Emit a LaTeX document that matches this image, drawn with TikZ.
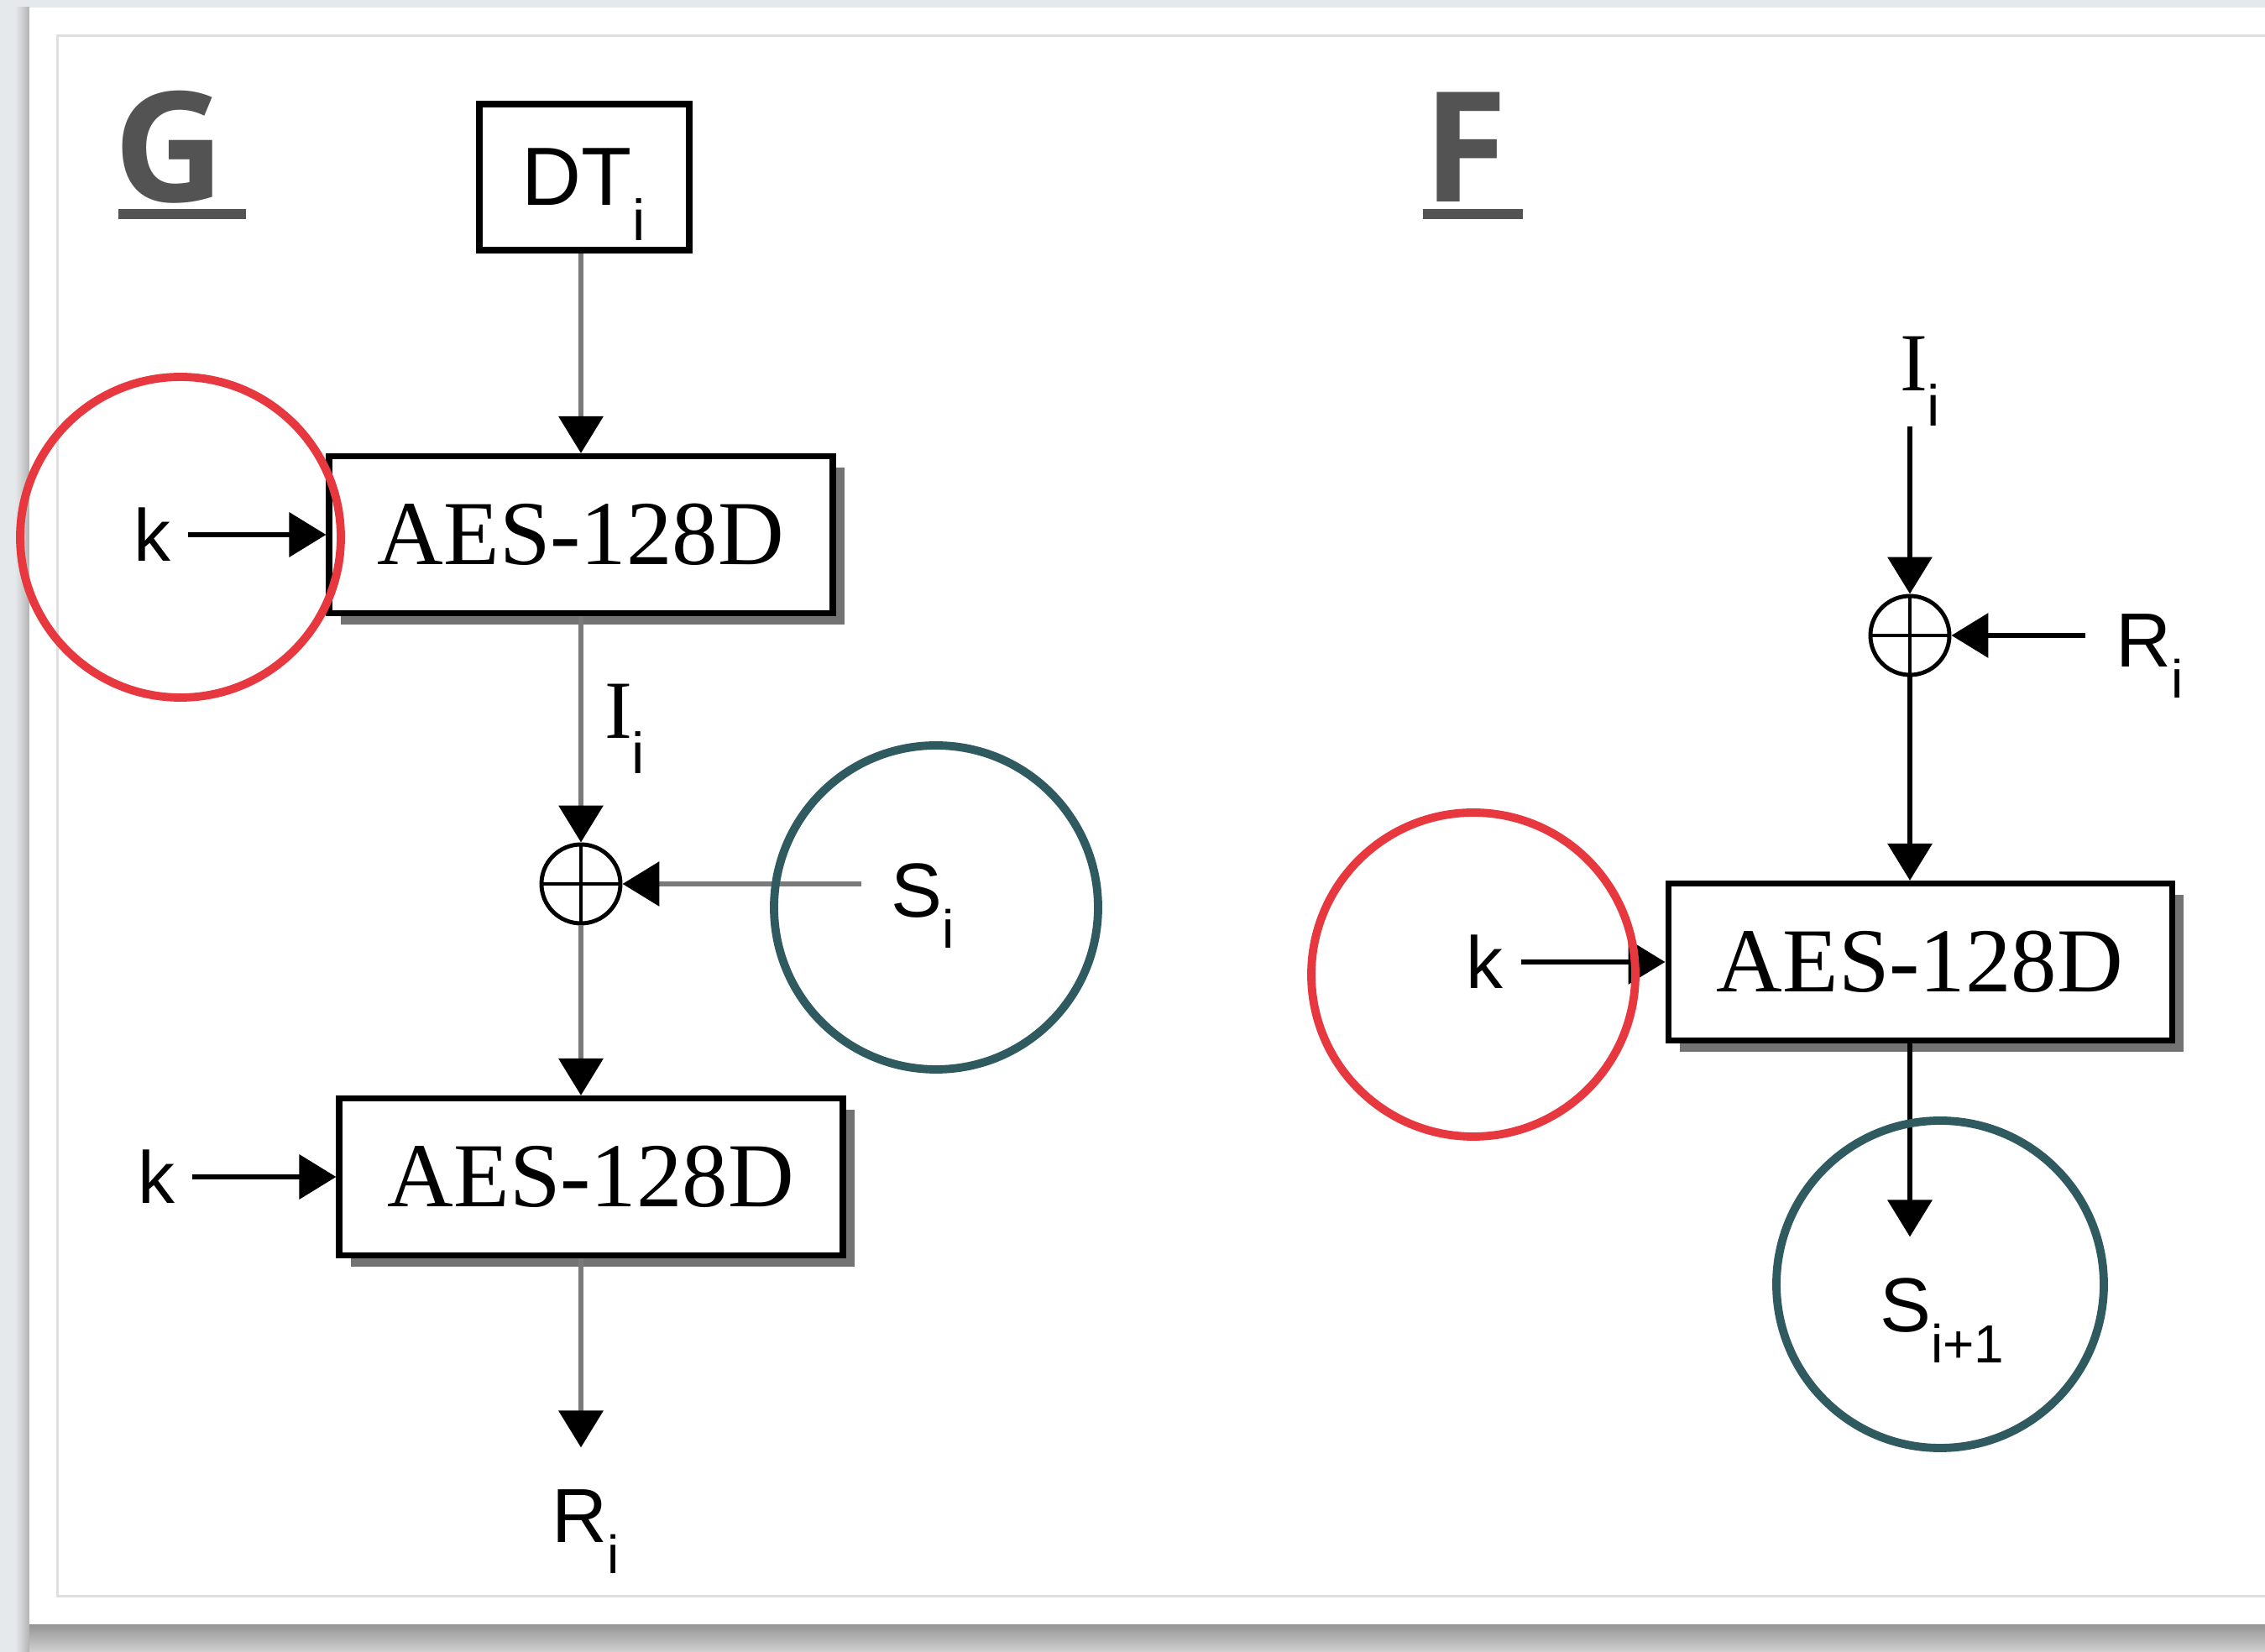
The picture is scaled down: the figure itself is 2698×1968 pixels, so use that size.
\documentclass[tikz,border=0pt]{standalone}
\usepackage{fontspec}
\setmainfont{Liberation Serif}
\setsansfont{Liberation Sans}
\newfontfamily\headfont{Open Sans}
\usepackage{tikz}
\usetikzlibrary{arrows.meta,positioning,shadows}
\definecolor{pagegray}{HTML}{E6E9EC}
\definecolor{framegray}{HTML}{DEDFE1}
\definecolor{linegray}{HTML}{7A7A7A}
\definecolor{headgray}{HTML}{535353}
\definecolor{markred}{HTML}{E8383F}
\definecolor{markteal}{HTML}{2E5A60}
\newcommand{\subi}{\raisebox{-0.22em}{\textsubscript{\sffamily i}}}

\begin{document}
\begin{tikzpicture}[x=0.1mm,y=-0.1mm,
  aes/.style={draw,line width=2pt,fill=white,minimum width=60mm,minimum height=18.7mm,inner sep=0pt,font=\fontsize{31}{31}\selectfont,general shadow={fill=black!55,shadow xshift=1.4mm,shadow yshift=-1.4mm}},
  dtbox/.style={draw,line width=2pt,fill=white,minimum width=25mm,minimum height=17.4mm,inner sep=0pt,text depth=0pt,font=\sffamily\fontsize{28}{28}\selectfont},
  xorop/.style={circle,draw,line width=1.4pt,minimum size=9.4mm,inner sep=0pt,fill=white,path picture={\draw[line width=1.4pt] (path picture bounding box.north) -- (path picture bounding box.south) (path picture bounding box.west) -- (path picture bounding box.east);}},
  keylab/.style={inner sep=2mm,font=\sffamily\fontsize{25}{25}\selectfont},
  inlab/.style={inner sep=2mm,inner xsep=3.5mm,anchor=base,font=\sffamily\fontsize{26}{26}\selectfont},
  serlab/.style={inner sep=2mm,anchor=base,font=\fontsize{28}{28}\selectfont},
  heading/.style={inner sep=0pt,anchor=base west,text=headgray,font=\headfont\bfseries\fontsize{52}{52}\selectfont},
  flow/.style={line width=1.9pt,draw=linegray,-{Triangle[width=5.2mm,length=4.4mm,color=black]}},
  flowdark/.style={line width=1.9pt,draw=black,-{Triangle[width=5.2mm,length=4.4mm]}},
  redmark/.style={draw=markred,line width=2.8pt},
  tealmark/.style={draw=markteal,line width=2.8pt}
]
\useasboundingbox (0,0) rectangle (2698,1968);
% page and frame
\fill[pagegray] (0,0) rectangle (2698,1968);
\shade[top color=black!42,bottom color=black!18] (20,1935) rectangle (2698,1968);
\shade[left color=pagegray,right color=black!30] (18,9) rectangle (35,1968);
\fill[white] (35,9) rectangle (2698,1935);
\draw[framegray,line width=0.3mm] (68,43) rectangle (2760,1902);

% headings
\node[heading] (gtitle) at (135,241) {G};
\node[heading] (ftitle) at (1695,241) {F};
\fill[headgray] (141,249) rectangle (293,261);
\fill[headgray] (1695,249) rectangle (1814,261);

% G side
\node[dtbox] (dt) at (696,211) {DT\subi};
\node[aes] (aesa) at (692,637) {AES-128D};
\node[xorop] (xora) at (692,1053) {};
\node[aes] (aesb) at (704,1402) {AES-128D};
\node[keylab,left=16.4mm of aesa] (ka) {k};
\node[keylab,left=17.1mm of aesb] (kb) {k};
\node[serlab] (ia) at (745,880) {I\subi};
\node[inlab] (sa) at (1100,1093) {S\subi};
\node[inlab] (ra) at (698,1838) {R\subi};

\draw[flow] (aesa |- dt.south) -- (aesa.north);
\draw[flowdark] (ka) -- (aesa);
\draw[flow] (aesa) -- (xora);
\draw[flow] (sa.west |- xora) -- (xora);
\draw[flow] (xora) -- (xora |- aesb.north);
\draw[flowdark] (kb) -- (aesb);
\draw[flow,shorten >=3mm] (aesb.south -| xora) -- (xora |- ra.north);

% F side
\node[serlab,inner ysep=0pt] (ib) at (2288,466) {I\subi};
\node[xorop] (xorb) at (2275,757) {};
\node[inlab] (rb) at (2561,795) {R\subi};
\node[aes] (aesc) at (2287,1146) {AES-128D};
\node[keylab,left=17.2mm of aesc] (kc) {k};
\node[inlab] (snext) at (2314,1587) {S\raisebox{-0.22em}{\textsubscript{\sffamily i+1}}};

\draw[flowdark] (xorb |- ib.south) -- (xorb);
\draw[flowdark] (rb.west |- xorb) -- (xorb);
\draw[flowdark] (xorb) -- (xorb |- aesc.north);
\draw[flowdark] (kc) -- (aesc);
\draw[flowdark,shorten >=2.9mm] (aesc.south -| xorb) -- (xorb |- snext.north);

% marks
\draw[redmark] (215,640) circle[radius=19.1mm];
\draw[tealmark] (1115,1081) circle[radius=19.3mm];
\draw[redmark] (1755,1161) circle[radius=19.3mm];
\draw[tealmark] (2311,1530) circle[radius=19.5mm];
\end{tikzpicture}
\end{document}
